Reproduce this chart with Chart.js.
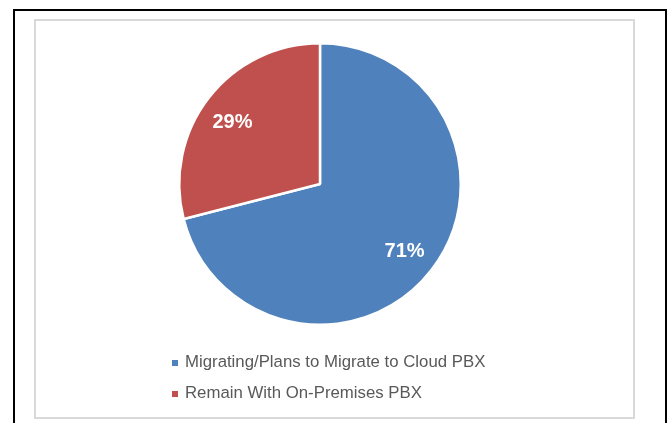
<!DOCTYPE html>
<html>
<head>
<meta charset="utf-8">
<script src="https://cdn.jsdelivr.net/npm/chart.js@4/dist/chart.umd.min.js"></script>
<style>
  html,body{margin:0;padding:0;background:#fff;width:672px;height:423px;overflow:hidden;}
  #outer{position:absolute;left:13px;top:9px;width:650px;height:420px;border:2px solid #000;border-bottom:none;box-sizing:content-box;}
  #inner{position:absolute;left:34px;top:19px;width:597px;height:396px;border:2px solid #d9d9d9;}
  #wrap{position:absolute;left:0;top:0;width:672px;height:423px;}
</style>
</head>
<body>
<div id="outer"></div>
<div id="inner"></div>
<div id="wrap"><canvas id="c" width="672" height="423"></canvas></div>
<script>
const categories = ["Migrating/Plans to Migrate to Cloud PBX", "Remain With On-Premises PBX"];
const values = [71, 29];
const labelsText = ["71%", "29%"];
const colors = ["#4F81BD", "#C0504D"];

const labelNudge = [[0, 1.5], [-3, 4.5]];

const sliceLabels = {
  id: 'sliceLabels',
  afterDatasetsDraw(chart) {
    const ctx = chart.ctx;
    const meta = chart.getDatasetMeta(0);
    ctx.save();
    ctx.fillStyle = '#fff';
    ctx.font = 'bold 20px "Liberation Sans", Arial, sans-serif';
    ctx.textAlign = 'center';
    ctx.textBaseline = 'middle';
    meta.data.forEach((arc, i) => {
      const mid = (arc.startAngle + arc.endAngle) / 2;
      const r = arc.outerRadius * 0.76;
      ctx.fillText(labelsText[i], arc.x + Math.cos(mid) * r + labelNudge[i][0], arc.y + Math.sin(mid) * r + labelNudge[i][1]);
    });
    ctx.restore();
  }
};

const customLegend = {
  id: 'customLegend',
  afterDraw(chart) {
    const ctx = chart.ctx;
    ctx.save();
    ctx.font = '16.8px "Liberation Sans", Arial, sans-serif';
    ctx.textBaseline = 'alphabetic';
    ctx.textAlign = 'left';
    const rows = [367, 398];
    categories.forEach((t, i) => {
      ctx.fillStyle = colors[i];
      ctx.fillRect(172, rows[i] - 7, 6, 6);
      ctx.fillStyle = '#595959';
      ctx.fillText(t, 185, rows[i]);
    });
    ctx.restore();
  }
};

new Chart(document.getElementById('c'), {
  type: 'pie',
  data: {
    labels: categories,
    datasets: [{
      data: values,
      backgroundColor: colors,
      borderColor: '#ffffff',
      borderWidth: 2.5
    }]
  },
  options: {
    responsive: false,
    animation: false,
    rotation: 0,
    layout: { padding: { left: 178, right: 210, top: 42, bottom: 97 } },
    plugins: { legend: { display: false }, tooltip: { enabled: false } }
  },
  plugins: [sliceLabels, customLegend]
});
</script>
</body>
</html>
